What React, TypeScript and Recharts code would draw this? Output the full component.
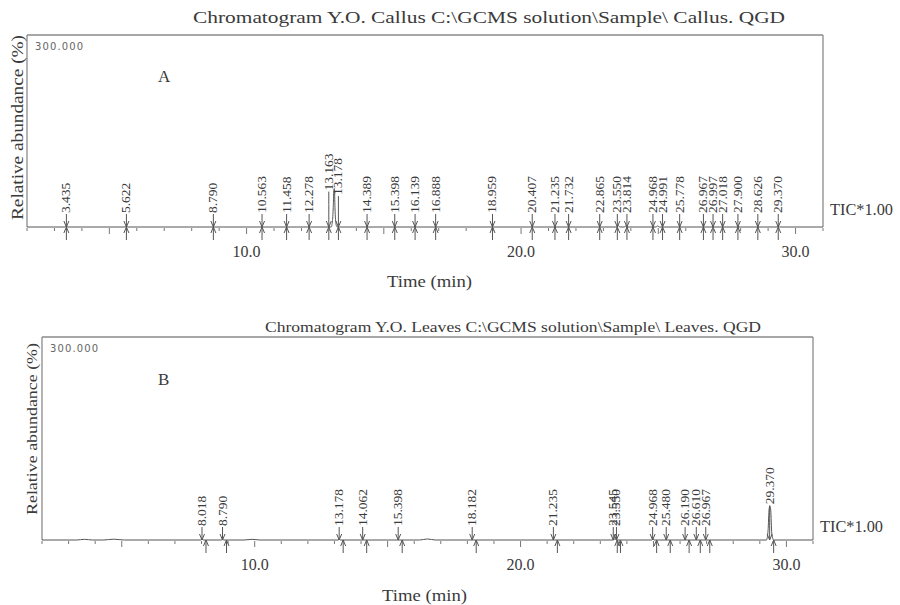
import React from 'react';
import { ComposedChart, Line, Scatter, XAxis, YAxis, ReferenceLine, ErrorBar } from 'recharts';

// ---------- data ----------
const timeTicks = [2, 3, 4, 5, 6, 7, 8, 9, 10, 11, 12, 13, 14, 15, 16, 17, 18, 19, 20, 21, 22, 23, 24, 25, 26, 27, 28, 29, 30, 31];
const labeledTicks = [10, 20, 30];
const timeDomain: [number, number] = [2, 31];
const abundanceDomain: [number, number] = [0, 300];

const callusRT = [3.435, 5.622, 8.79, 10.563, 11.458, 12.278, 13.163, 13.178, 14.389, 15.398, 16.139, 16.888, 18.959, 20.407, 21.235, 21.732, 22.865, 23.55, 23.814, 24.968, 24.991, 25.778, 26.967, 26.997, 27.018, 27.9, 28.626, 29.37];
const callusLabelH = [0, 0, 0, 0, 0, 0, 35, 28, 0, 0, 0, 0, 0, 0, 0, 0, 0, 0, 0, 0, 0, 0, 0, 0, 0, 0, 0, 0];
const callusSignal: [number, number][] = [
  [2.0, 0], [3.38, 0], [3.43, 1.2], [3.49, 0], [5.57, 0], [5.62, 1], [5.68, 0],
  [12.24, 0], [12.28, 1.5], [12.32, 0], [13.08, 0], [13.13, 10], [13.16, 34], [13.18, 58], [13.2, 60],
  [13.22, 30], [13.26, 4], [13.3, 0], [14.35, 0], [14.39, 1.8], [14.44, 0], [16.1, 0], [16.14, 1.5],
  [16.2, 0], [20.37, 0], [20.41, 1.2], [20.46, 0], [23.5, 0], [23.55, 2], [23.6, 0], [23.78, 0],
  [23.81, 1.8], [23.86, 0], [24.93, 0], [24.97, 2], [25.03, 0], [26.95, 0], [26.98, 1.5], [27.03, 0],
  [29.33, 0], [29.37, 2], [29.42, 0], [31.0, 0],
];

const leavesRT = [8.018, 8.79, 13.178, 14.062, 15.398, 18.182, 21.235, 23.545, 23.55, 24.968, 25.48, 26.19, 26.61, 26.967, 29.37];
const leavesLabelH = [0, 0, 0, 0, 0, 0, 0, 0, 0, 0, 0, 0, 0, 0, 32];
const leavesSignal: [number, number][] = [
  [2.0, 0], [3.3, 0], [3.6, 1], [3.9, 0], [4.3, 0], [4.7, 1.2], [5.1, 0], [7.98, 0], [8.02, 1.5], [8.06, 0],
  [8.75, 0], [8.79, 1.5], [8.83, 0], [9.6, 0], [9.9, 1], [10.2, 0], [13.14, 0], [13.18, 1.2], [13.22, 0],
  [16.2, 0], [16.5, 1.5], [16.8, 0], [23.5, 0], [23.55, 2], [23.6, 0], [24.93, 0], [24.97, 1.5], [25.02, 0],
  [29.25, 0], [29.31, 14], [29.35, 46], [29.38, 50], [29.41, 44], [29.45, 10], [29.52, 0], [31.0, 0],
];

// ---------- helpers ----------
const SERIF = "'Liberation Serif', 'DejaVu Serif', serif";
const INK = '#3a3a3a';
const LINE = '#555';

function spread(rts: number[], gap: number): number[] {
  const out = rts.slice();
  let i = 0;
  while (i < rts.length) {
    let j = i;
    while (j + 1 < rts.length && rts[j + 1] - rts[j] < gap) j++;
    const n = j - i + 1;
    if (n > 1) {
      let sum = 0;
      for (let k = i; k <= j; k++) sum += rts[k];
      const mean = sum / n;
      for (let k = i; k <= j; k++) out[k] = mean + (k - i - (n - 1) / 2) * gap;
    }
    i = j + 1;
  }
  return out;
}

function buildMarkers(rts: number[], hs: number[], gap: number) {
  const pos = spread(rts, gap);
  return rts.map((rt, k) => ({ t: pos[k], y: hs[k], base: 0, err: [hs[k], 0], label: rt.toFixed(3) }));
}

const signalRows = (s: [number, number][]) => s.map(([t, v]) => ({ t, v }));

const TimeTick = (props: any) => {
  const { x, y, payload } = props;
  const v = payload.value as number;
  const len = v % 5 === 0 ? 7 : 4;
  return (
    <g>
      <line x1={x} x2={x} y1={y + 1} y2={y + len} stroke="#777" strokeWidth={1} />
      {labeledTicks.includes(v) && (
        <text x={x} y={y + 30} textAnchor="middle" fontFamily={SERIF} fontSize={16} fill={INK}>
          {v.toFixed(1)}
        </text>
      )}
    </g>
  );
};

const LabelMark = (props: any) => {
  const { cx, cy, payload } = props;
  if (cx == null || cy == null) return <g />;
  const tx = cx + 4;
  const ty = cy - 14;
  return (
    <g>
      <line x1={cx} x2={cx} y1={cy - 13} y2={cy} stroke={LINE} strokeWidth={1} />
      <text x={tx} y={ty} transform={`rotate(-90 ${tx} ${ty})`} fontFamily={SERIF} fontSize={13.5} fill={INK}>
        {payload.label}
      </text>
    </g>
  );
};

const makeBaseMark = (upOffset: number) => (props: any) => {
  const { cx, cy } = props;
  if (cx == null || cy == null) return <g />;
  const ux = cx + upOffset;
  return (
    <g stroke={LINE} strokeWidth={1} fill="none">
      <polyline points={`${cx - 2.5},${cy - 6} ${cx},${cy} ${cx + 2.5},${cy - 6}`} />
      <line x1={ux} x2={ux} y1={cy} y2={cy + 13} />
      <polyline points={`${ux - 2.5},${cy + 6} ${ux},${cy} ${ux + 2.5},${cy + 6}`} />
    </g>
  );
};

function Panel(props: {
  width: number;
  height: number;
  margin: { top: number; right: number; bottom: number; left: number };
  signal: { t: number; v: number }[];
  markers: any[];
  upOffset: number;
}) {
  const { width, height, margin, signal, markers, upOffset } = props;
  return (
    <ComposedChart width={width} height={height} margin={margin}>
      <XAxis
        dataKey="t"
        type="number"
        domain={timeDomain}
        ticks={timeTicks}
        interval={0}
        tickSize={0}
        tickMargin={0}
        axisLine={false}
        tickLine={false}
        height={40}
        tick={(p: any) => <TimeTick {...p} />}
      />
      <YAxis hide type="number" domain={abundanceDomain} />
      <ReferenceLine x={timeDomain[0]} stroke="#8a8a8a" strokeWidth={1.3} />
      <ReferenceLine x={timeDomain[1]} stroke="#8a8a8a" strokeWidth={1.3} />
      <ReferenceLine y={abundanceDomain[1]} stroke="#8a8a8a" strokeWidth={1.3} />
      <Line
        data={signal}
        dataKey="v"
        type="monotone"
        stroke={LINE}
        strokeWidth={1}
        dot={false}
        activeDot={false}
        isAnimationActive={false}
      />
      <Scatter data={markers} dataKey="base" shape={makeBaseMark(upOffset)} isAnimationActive={false} />
      <Scatter data={markers} dataKey="y" shape={(p: any) => <LabelMark {...p} />} isAnimationActive={false}>
        <ErrorBar dataKey="err" direction="y" width={0} stroke={LINE} strokeWidth={1} isAnimationActive={false} />
      </Scatter>
    </ComposedChart>
  );
}

const callusMarkers = buildMarkers(callusRT, callusLabelH, 0.35);
const leavesMarkers = buildMarkers(leavesRT, leavesLabelH, 0.12);

export default function App() {
  const t = { fontFamily: SERIF, fill: INK } as const;
  return (
    <div style={{ position: 'absolute', left: 0, top: 0, width: 900, height: 605, background: '#fff', overflow: 'hidden' }}>
      <div style={{ position: 'absolute', left: 0, top: 0 }}>
        <Panel
          width={900}
          height={300}
          margin={{ top: 35, left: 27, right: 77, bottom: 33 }}
          signal={signalRows(callusSignal)}
          markers={callusMarkers}
          upOffset={0}
        />
      </div>
      <div style={{ position: 'absolute', left: 0, top: 300 }}>
        <Panel
          width={900}
          height={305}
          margin={{ top: 37, left: 42, right: 87, bottom: 25 }}
          signal={signalRows(leavesSignal)}
          markers={leavesMarkers}
          upOffset={4}
        />
      </div>
      <svg width={900} height={605} style={{ position: 'absolute', left: 0, top: 0, pointerEvents: 'none' }}>
        {/* panel A */}
        <text x={193} y={23} fontSize={16} textLength={592} lengthAdjust="spacingAndGlyphs" {...t}>
          {'Chromatogram Y.O. Callus C:\\GCMS solution\\Sample\\ Callus. QGD'}
        </text>
        <text x={35} y={50} fontSize={10} fontFamily="'DejaVu Sans', sans-serif" fill="#666" textLength={48}>
          300.000
        </text>
        <text x={158} y={82} fontSize={17} {...t}>A</text>
        <text x={830} y={215} fontSize={16} textLength={63} lengthAdjust="spacingAndGlyphs" {...t}>TIC*1.00</text>
        <text x={387} y={287} fontSize={16} textLength={85} lengthAdjust="spacingAndGlyphs" {...t}>Time (min)</text>
        <text transform="translate(23,220) rotate(-90)" fontSize={16} textLength={185} lengthAdjust="spacingAndGlyphs" {...t}>
          Relative abundance (%)
        </text>
        {/* panel B */}
        <text x={265} y={332} fontSize={14.5} textLength={496} lengthAdjust="spacingAndGlyphs" {...t}>
          {'Chromatogram Y.O. Leaves C:\\GCMS solution\\Sample\\ Leaves. QGD'}
        </text>
        <text x={50} y={352} fontSize={10} fontFamily="'DejaVu Sans', sans-serif" fill="#666" textLength={48}>
          300.000
        </text>
        <text x={158} y={385} fontSize={17} {...t}>B</text>
        <text x={820} y={532} fontSize={16} textLength={63} lengthAdjust="spacingAndGlyphs" {...t}>TIC*1.00</text>
        <text x={382} y={601} fontSize={16} textLength={85} lengthAdjust="spacingAndGlyphs" {...t}>Time (min)</text>
        <text transform="translate(37,515) rotate(-90)" fontSize={15} textLength={172} lengthAdjust="spacingAndGlyphs" {...t}>
          Relative abundance (%)
        </text>
      </svg>
    </div>
  );
}
